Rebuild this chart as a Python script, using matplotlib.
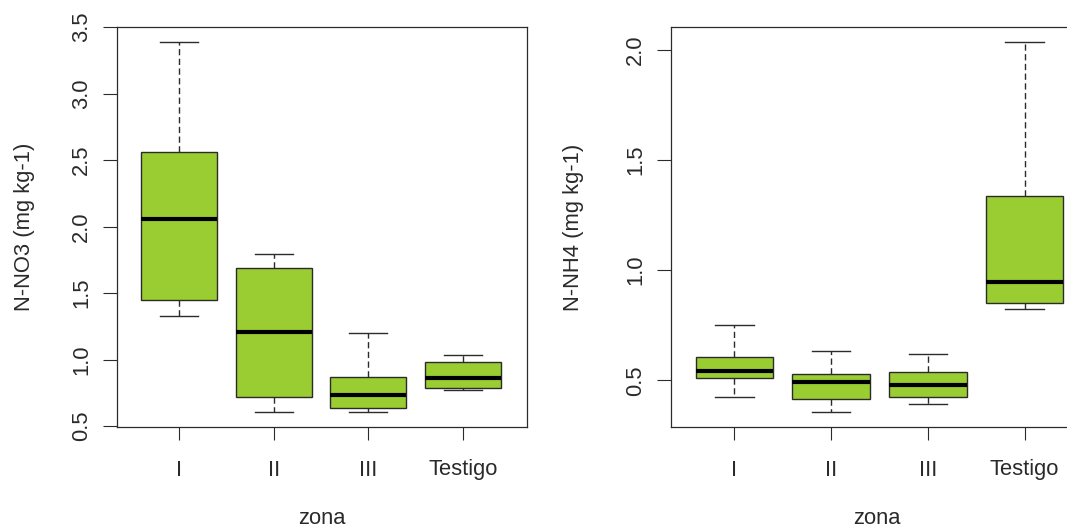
import matplotlib
matplotlib.use("Agg")
import matplotlib.pyplot as plt

plt.rcParams['font.family'] = ['Liberation Sans', 'DejaVu Sans']

zones = ['I', 'II', 'III', 'Testigo']

no3_whislo = [1.33, 0.605, 0.605, 0.77]
no3_q1 = [1.447, 0.72, 0.636, 0.789]
no3_med = [2.06, 1.209, 0.738, 0.861]
no3_q3 = [2.56, 1.688, 0.869, 0.981]
no3_whishi = [3.385, 1.795, 1.199, 1.035]

nh4_whislo = [0.426, 0.356, 0.392, 0.826]
nh4_q1 = [0.511, 0.418, 0.424, 0.853]
nh4_med = [0.542, 0.492, 0.480, 0.945]
nh4_q3 = [0.604, 0.529, 0.536, 1.335]
nh4_whishi = [0.752, 0.635, 0.622, 2.035]

no3_ticks = [0.5, 1.0, 1.5, 2.0, 2.5, 3.0, 3.5]
nh4_ticks = [0.5, 1.0, 1.5, 2.0]

FILL = '#9ACD32'
EDGE = '#2b2b2b'
TXT = '#2a2a2a'
FS = 15.8

W, H = 1067, 532
fig = plt.figure(figsize=(W / 100, H / 100), dpi=100)

def px_axes(left, right, top, bottom):
    return fig.add_axes([left / W, 1 - bottom / H, (right - left) / W, (bottom - top) / H])

ax1 = px_axes(117, 527, 27, 427)
ax2 = px_axes(671, 1090, 27, 427)

def draw(ax, lo, q1, med, q3, hi, ticks, ylabel):
    stats = []
    for i in range(len(zones)):
        stats.append(dict(whislo=lo[i], q1=q1[i], med=med[i], q3=q3[i], whishi=hi[i],
                          fliers=[], label=zones[i]))
    ax.bxp(stats, positions=range(1, len(zones) + 1), widths=0.8, patch_artist=True,
           showfliers=False,
           boxprops=dict(facecolor=FILL, edgecolor=EDGE, linewidth=1.0),
           medianprops=dict(color='black', linewidth=3.0, solid_capstyle='butt'),
           whiskerprops=dict(color=EDGE, linewidth=1.0, linestyle=(0, (4.5, 2.5))),
           capprops=dict(color=EDGE, linewidth=1.0),
           capwidths=0.4)
    allv = lo + hi
    rng = max(allv) - min(allv)
    ax.set_ylim(min(allv) - 0.04 * rng, max(allv) + 0.04 * rng)
    ax.set_xlim(0.345, 4.676)
    ax.set_yticks(ticks)
    ax.set_yticklabels([f'{t:.1f}' for t in ticks], rotation=90, va='center',
                       fontsize=FS, color=TXT)
    ax.set_xticks(range(1, len(zones) + 1))
    ax.set_xticklabels(zones, fontsize=FS, color=TXT)
    ax.tick_params(axis='x', direction='out', length=9.4, width=0.8, color=EDGE, pad=14)
    ax.tick_params(axis='y', direction='out', length=10, width=0.8, color=EDGE, pad=8)
    for s in ax.spines.values():
        s.set_color(EDGE)
        s.set_linewidth(0.9)
    ax.set_ylabel(ylabel, fontsize=FS, color=TXT, va='center')
    ax.set_xlabel('zona', fontsize=FS, color=TXT, va='center')
    return ax

draw(ax1, no3_whislo, no3_q1, no3_med, no3_q3, no3_whishi, no3_ticks, 'N-NO3 (mg kg-1)')
draw(ax2, nh4_whislo, nh4_q1, nh4_med, nh4_q3, nh4_whishi, nh4_ticks, 'N-NH4 (mg kg-1)')

ax1.yaxis.set_label_coords((25 - 117) / 410, 0.5)
ax2.yaxis.set_label_coords((574 - 671) / 419, 0.5)
ax1.xaxis.set_label_coords(0.5, (427 - 519) / 400)
ax2.xaxis.set_label_coords((877 - 671) / 419, (427 - 519) / 400)

fig.savefig('out.png', dpi=100)
